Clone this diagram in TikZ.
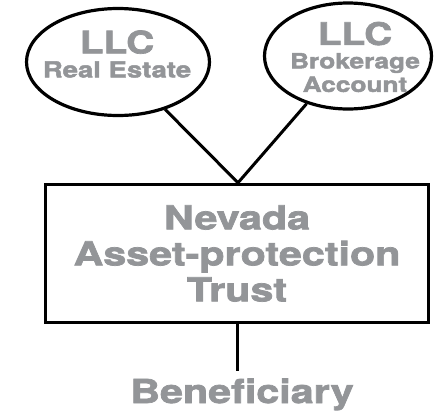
\documentclass[tikz,border=0pt]{standalone}
\usepackage{fontspec}
\usetikzlibrary{shapes.geometric}
\newfontfamily\heavyfont{texgyreheros-bold.otf}[FakeStretch=1.25, FakeBold=2.2]
\definecolor{labelgray}{RGB}{147,149,152}

\begin{document}
\begin{tikzpicture}[x=1pt, y=-1pt,
        oval/.style={draw, ellipse, line width=3.2pt, inner sep=0pt},
        caption/.style={text=labelgray, font=\heavyfont\fontsize{22}{24}\selectfont, align=center, inner sep=0pt},
        big/.style={font=\heavyfont\fontsize{33}{36}\selectfont}]
        \useasboundingbox (0,0) rectangle (434,410);
        \node[oval, minimum width=183pt, minimum height=107pt] (realestate) at (118,62) {};
        \node[oval, minimum width=167pt, minimum height=106pt] (brokerage) at (348,56) {};
        \node[caption] (realestate text) at (117,54) {{\fontsize{31}{24}\selectfont LLC}\\Real Estate};
        \node[caption, font=\heavyfont\fontsize{21}{23.5}\selectfont] (brokerage text) at (355,57) {{\fontsize{31}{23.5}\selectfont LLC}\\Brokerage\\Account};
        \node[draw, line width=3.5pt, minimum width=383pt, minimum height=138pt, caption, big] (trust) at (237,253.5) {Nevada\\Asset-protection\\Trust};
        \node[caption, big, anchor=base, inner ysep=7pt] (beneficiary) at (242,403) {Beneficiary};
        \coordinate (apex) at ([xshift=1pt]trust.north);
        \draw[line width=3pt] (realestate) -- (apex) -- (brokerage);
        \draw[line width=3pt] (trust.south) -- (trust.south |- beneficiary.north);
    \end{tikzpicture}
\end{document}
